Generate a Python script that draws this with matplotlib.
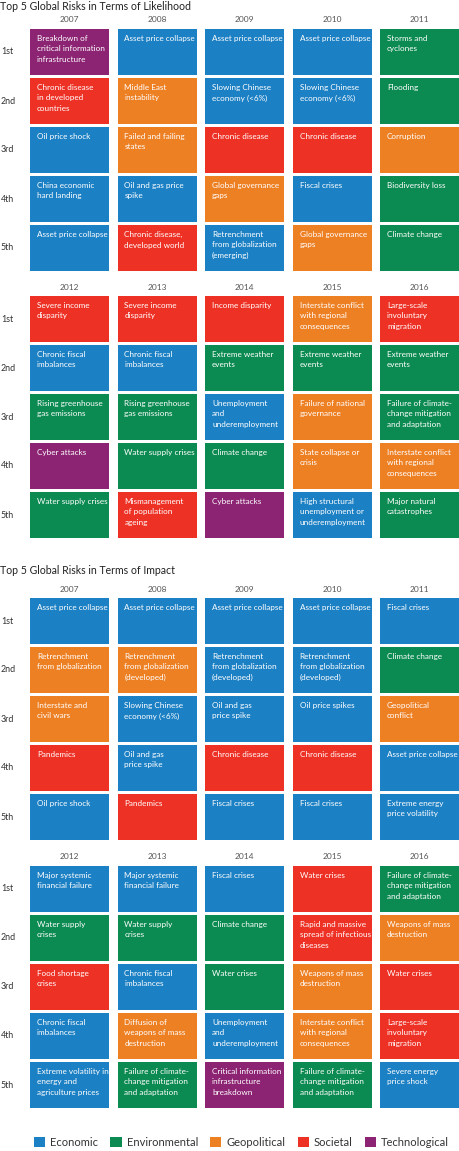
import matplotlib.pyplot as plt
from matplotlib.patches import Patch, Rectangle

plt.rcParams['font.family'] = ['Lato', 'DejaVu Sans']

# categories and colours
categories = ['Economic', 'Environmental', 'Geopolitical', 'Societal', 'Technological']
cat_codes = ['Ec', 'En', 'G', 'S', 'T']
cat_colors = ['#1c80c4', '#0b8a51', '#ee8024', '#ee3125', '#8c2473']

ranks = ['1st', '2nd', '3rd', '4th', '5th']
years_early = [2007, 2008, 2009, 2010, 2011]
years_late = [2012, 2013, 2014, 2015, 2016]

# likelihood, 2007-2011 (one list per year, 1st..5th)
likelihood_early = [
    ['Breakdown of\ncritical information\ninfrastructure', 'Chronic disease\nin developed\ncountries',
     'Oil price shock', 'China economic\nhard landing', 'Asset price collapse'],
    ['Asset price collapse', 'Middle East\ninstability', 'Failed and failing\nstates',
     'Oil and gas price\nspike', 'Chronic disease,\ndeveloped world'],
    ['Asset price collapse', 'Slowing Chinese\neconomy (<6%)', 'Chronic disease',
     'Global governance\ngaps', 'Retrenchment\nfrom globalization\n(emerging)'],
    ['Asset price collapse', 'Slowing Chinese\neconomy (<6%)', 'Chronic disease',
     'Fiscal crises', 'Global governance\ngaps'],
    ['Storms and\ncyclones', 'Flooding', 'Corruption', 'Biodiversity loss', 'Climate change'],
]
likelihood_early_cat = [
    ['T', 'S', 'Ec', 'Ec', 'Ec'],
    ['Ec', 'G', 'G', 'Ec', 'S'],
    ['Ec', 'Ec', 'S', 'G', 'Ec'],
    ['Ec', 'Ec', 'S', 'Ec', 'G'],
    ['En', 'En', 'G', 'En', 'En'],
]

# likelihood, 2012-2016
likelihood_late = [
    ['Severe income\ndisparity', 'Chronic fiscal\nimbalances', 'Rising greenhouse\ngas emissions',
     'Cyber attacks', 'Water supply crises'],
    ['Severe income\ndisparity', 'Chronic fiscal\nimbalances', 'Rising greenhouse\ngas emissions',
     'Water supply crises', 'Mismanagement\nof population\nageing'],
    ['Income disparity', 'Extreme weather\nevents', 'Unemployment\nand\nunderemployment',
     'Climate change', 'Cyber attacks'],
    ['Interstate conflict\nwith regional\nconsequences', 'Extreme weather\nevents',
     'Failure of national\ngovernance', 'State collapse or\ncrisis',
     'High structural\nunemployment or\nunderemployment'],
    ['Large-scale\ninvoluntary\nmigration', 'Extreme weather\nevents',
     'Failure of climate-\nchange mitigation\nand adaptation',
     'Interstate conflict\nwith regional\nconsequences', 'Major natural\ncatastrophes'],
]
likelihood_late_cat = [
    ['S', 'Ec', 'En', 'T', 'En'],
    ['S', 'Ec', 'En', 'En', 'S'],
    ['S', 'En', 'Ec', 'En', 'T'],
    ['G', 'En', 'G', 'G', 'Ec'],
    ['S', 'En', 'En', 'G', 'En'],
]

# impact, 2007-2011
impact_early = [
    ['Asset price collapse', 'Retrenchment\nfrom globalization', 'Interstate and\ncivil wars',
     'Pandemics', 'Oil price shock'],
    ['Asset price collapse', 'Retrenchment\nfrom globalization\n(developed)',
     'Slowing Chinese\neconomy (<6%)', 'Oil and gas\nprice spike', 'Pandemics'],
    ['Asset price collapse', 'Retrenchment\nfrom globalization\n(developed)',
     'Oil and gas\nprice spike', 'Chronic disease', 'Fiscal crises'],
    ['Asset price collapse', 'Retrenchment\nfrom globalization\n(developed)',
     'Oil price spikes', 'Chronic disease', 'Fiscal crises'],
    ['Fiscal crises', 'Climate change', 'Geopolitical\nconflict', 'Asset price collapse',
     'Extreme energy\nprice volatility'],
]
impact_early_cat = [
    ['Ec', 'G', 'G', 'S', 'Ec'],
    ['Ec', 'G', 'Ec', 'Ec', 'S'],
    ['Ec', 'Ec', 'Ec', 'S', 'Ec'],
    ['Ec', 'Ec', 'Ec', 'S', 'Ec'],
    ['Ec', 'En', 'G', 'Ec', 'Ec'],
]

# impact, 2012-2016
impact_late = [
    ['Major systemic\nfinancial failure', 'Water supply\ncrises', 'Food shortage\ncrises',
     'Chronic fiscal\nimbalances', 'Extreme volatility in\nenergy and\nagriculture prices'],
    ['Major systemic\nfinancial failure', 'Water supply\ncrises', 'Chronic fiscal\nimbalances',
     'Diffusion of\nweapons of mass\ndestruction', 'Failure of climate-\nchange mitigation\nand adaptation'],
    ['Fiscal crises', 'Climate change', 'Water crises', 'Unemployment\nand\nunderemployment',
     'Critical information\ninfrastructure\nbreakdown'],
    ['Water crises', 'Rapid and massive\nspread of infectious\ndiseases', 'Weapons of mass\ndestruction',
     'Interstate conflict\nwith regional\nconsequences', 'Failure of climate-\nchange mitigation\nand adaptation'],
    ['Failure of climate-\nchange mitigation\nand adaptation', 'Weapons of mass\ndestruction',
     'Water crises', 'Large-scale\ninvoluntary\nmigration', 'Severe energy\nprice shock'],
]
impact_late_cat = [
    ['Ec', 'En', 'S', 'Ec', 'Ec'],
    ['Ec', 'En', 'Ec', 'G', 'En'],
    ['Ec', 'En', 'En', 'Ec', 'T'],
    ['S', 'S', 'G', 'G', 'En'],
    ['En', 'G', 'S', 'S', 'Ec'],
]

color_of = dict(zip(cat_codes, cat_colors))

W, H = 459, 1151
PX = 72 / 100  # points per pixel
fig = plt.figure(figsize=(W / 100, H / 100), dpi=100)

# grid geometry (pixels)
col_pitch, box_w = 87.5, 79
row_pitch, box_h = 49, 46
w = box_w / col_pitch
h = box_h / row_pitch


def draw_block(top, years, risks, cats):
    ax = fig.add_axes([30 / W, 1 - (top + 4 * row_pitch + box_h) / H,
                       (4 * col_pitch + box_w) / W, (4 * row_pitch + box_h) / H])
    ax.set_xlim(-w / 2, 4 + w / 2)
    ax.set_ylim(4 + h / 2, -h / 2)
    ax.axis('off')
    for i, yr in enumerate(years):
        ax.annotate(str(yr), xy=(i, -h / 2), xytext=(0, 9 * PX), textcoords='offset points',
                    ha='center', va='center', fontsize=6, color='#555555')
        for j in range(5):
            ax.add_patch(Rectangle((i - w / 2, j - h / 2), w, h, facecolor=color_of[cats[i][j]],
                                   edgecolor='none'))
            ax.annotate(risks[i][j], xy=(i - w / 2, j - h / 2), xytext=(7 * PX, -6 * PX),
                        textcoords='offset points', ha='left', va='top', fontsize=5.9,
                        color='white', linespacing=1.58)
    for j, r in enumerate(ranks):
        ax.annotate(r, xy=(-w / 2, j), xytext=(-29 * PX, 0), textcoords='offset points',
                    ha='left', va='center', fontsize=6.4, color='#333333')


fig.text(0, 1 - 6 / H, 'Top 5 Global Risks in Terms of Likelihood', ha='left', va='center',
         fontsize=7.6, color='#222222')
draw_block(29, years_early, likelihood_early, likelihood_early_cat)
draw_block(296, years_late, likelihood_late, likelihood_late_cat)

fig.text(0, 1 - 571 / H, 'Top 5 Global Risks in Terms of Impact', ha='left', va='center',
         fontsize=7.6, color='#222222')
draw_block(598, years_early, impact_early, impact_early_cat)
draw_block(866, years_late, impact_late, impact_late_cat)

handles = [Patch(facecolor=c, label=l) for l, c in zip(categories, cat_colors)]
fig.legend(handles=handles, loc='center', bbox_to_anchor=(241.5 / W, 1 - 1142.5 / H), ncol=5,
           frameon=False, fontsize=8, handlelength=1.0, handleheight=1.0, handletextpad=0.45,
           columnspacing=1.1, borderpad=0, borderaxespad=0, labelcolor='#333333')

fig.savefig('out.png', dpi=100)
